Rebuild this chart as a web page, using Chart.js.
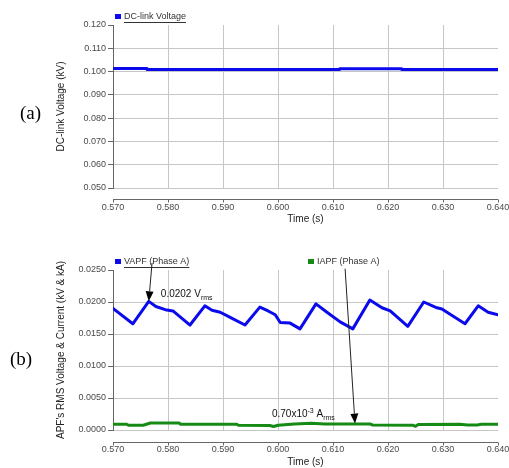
<!DOCTYPE html>
<html>
<head>
<meta charset="utf-8">
<script src="https://cdn.jsdelivr.net/npm/chart.js@4/dist/chart.umd.min.js"></script>
<style>
  html, body { margin: 0; padding: 0; background: #fff; }
  .panel { position: absolute; left: 0; }
</style>
</head>
<body>
<canvas id="chartA" class="panel" style="top:0" width="509" height="235"></canvas>
<canvas id="chartB" class="panel" style="top:235px" width="509" height="233"></canvas>
<script>
// Panel (a): DC-link voltage
const dcTime = [0.570, 0.5762, 0.5762, 0.6112, 0.6112, 0.6225, 0.6225, 0.640]
const dcVoltage = [0.1013, 0.1013, 0.1009, 0.1009, 0.1012, 0.1012, 0.1009, 0.1009]

// Panel (b): APF RMS voltage (phase A)
const vapfTime = [
  0.5700, 0.5736, 0.5765, 0.5778, 0.5795, 0.5809, 0.5840, 0.5867, 0.5880, 0.5895,
  0.5913, 0.5940, 0.5967, 0.5982, 0.5995, 0.6004, 0.6022, 0.6040, 0.6069, 0.6089,
  0.6113, 0.6136, 0.6167, 0.6189, 0.6204, 0.6236, 0.6265, 0.6289, 0.6298, 0.6340,
  0.6364, 0.6382, 0.6400,
]
const vapfValue = [
  0.0190, 0.0166, 0.0201, 0.0193, 0.0188, 0.0186, 0.0164, 0.0194, 0.0187, 0.0184,
  0.0176, 0.0164, 0.0192, 0.0186, 0.0180, 0.0168, 0.0167, 0.0158, 0.0197, 0.0184,
  0.0169, 0.0158, 0.0203, 0.0191, 0.0186, 0.0162, 0.0200, 0.0191, 0.0189, 0.0166,
  0.0194, 0.0184, 0.0180,
]

// Panel (b): APF RMS current (phase A)
const iapfTime = [
  0.5700, 0.5725, 0.5728, 0.5755, 0.5768, 0.5820, 0.5823, 0.5925, 0.5928, 0.5985,
  0.5992, 0.6000, 0.6030, 0.6060, 0.6085, 0.6167, 0.6172, 0.6245, 0.6250, 0.6255,
  0.6330, 0.6345, 0.6362, 0.6370, 0.6400,
]
const iapfValue = [
  0.00090, 0.00090, 0.00075, 0.00075, 0.00110, 0.00110, 0.00090, 0.00090, 0.00075, 0.00070,
  0.00055, 0.00075, 0.00095, 0.00105, 0.00095, 0.00095, 0.00078, 0.00075, 0.00058, 0.00085,
  0.00090, 0.00078, 0.00078, 0.00090, 0.00090,
]

// Оси
const timeMin = 0.570
const timeMax = 0.640
const timeStep = 0.010
const dcMin = 0.050
const dcMax = 0.120
const dcStep = 0.010
const rmsMin = 0
const rmsMax = 0.025
const rmsStep = 0.005

const FONT = '"Liberation Sans", Arial, sans-serif'
Chart.defaults.font.family = FONT
Chart.defaults.font.size = 9
Chart.defaults.color = '#4a4a4a'

const GRID = '#c6c6c6'
const AXIS = '#666'

function pairs(xs, ys) {
  return xs.map((x, i) => ({ x: x, y: ys[i] }))
}

// Легенда, подписи панелей, ось X под графиком и стрелки
const panelDecor = {
  id: 'panelDecor',
  afterDraw(chart, args, opts) {
    const { ctx, chartArea } = chart
    const xs = chart.scales.x
    const ys = chart.scales.y
    ctx.save()

    // ось X, отодвинутая вниз от области графика
    const axisY = chartArea.bottom + opts.axisGap + 0.5
    ctx.strokeStyle = AXIS
    ctx.lineWidth = 1
    ctx.beginPath()
    ctx.moveTo(chartArea.left, axisY)
    ctx.lineTo(chartArea.right, axisY)
    xs.ticks.forEach((t) => {
      const px = Math.round(xs.getPixelForValue(t.value)) + 0.5
      ctx.moveTo(px, axisY)
      ctx.lineTo(px, axisY + 3)
    })
    ctx.stroke()

    // (a) / (b)
    ctx.fillStyle = '#000'
    ctx.font = '19px "Liberation Serif", "Times New Roman", serif'
    ctx.textBaseline = 'middle'
    ctx.textAlign = 'left'
    ctx.fillText(opts.letter, opts.letterX, opts.letterY)

    // легенда
    ctx.font = '9px ' + FONT
    const ly = chartArea.top - 8
    chart.data.datasets.forEach((ds, i) => {
      const lx = opts.legendX[i]
      ctx.fillStyle = ds.borderColor
      ctx.fillRect(lx, ly - 3, 6, 5)
      ctx.fillStyle = '#333'
      ctx.fillText(ds.label, lx + 9, ly)
      if (i === 0) {
        const w = ctx.measureText(ds.label).width
        ctx.strokeStyle = '#333'
        ctx.beginPath()
        ctx.moveTo(lx + 9, Math.round(ly + 5) + 0.5)
        ctx.lineTo(lx + 9 + w, Math.round(ly + 5) + 0.5)
        ctx.stroke()
      }
    })

    // стрелки
    ;(opts.arrows || []).forEach((a) => {
      const x1 = xs.getPixelForValue(a.from[0])
      const y1 = ys.getPixelForValue(a.from[1])
      const x2 = xs.getPixelForValue(a.to[0])
      const y2 = ys.getPixelForValue(a.to[1])
      const ang = Math.atan2(y2 - y1, x2 - x1)
      const len = 10
      const hw = 4
      const bx = x2 - len * Math.cos(ang)
      const by = y2 - len * Math.sin(ang)
      ctx.strokeStyle = '#222'
      ctx.lineWidth = 1
      ctx.beginPath()
      ctx.moveTo(x1, y1)
      ctx.lineTo(bx, by)
      ctx.stroke()
      ctx.fillStyle = '#000'
      ctx.beginPath()
      ctx.moveTo(x2, y2)
      ctx.lineTo(bx + hw * Math.sin(ang), by - hw * Math.cos(ang))
      ctx.lineTo(bx - hw * Math.sin(ang), by + hw * Math.cos(ang))
      ctx.closePath()
      ctx.fill()
    })

    // подписи у стрелок
    ctx.textBaseline = 'alphabetic'
    ctx.fillStyle = '#111'
    ;(opts.notes || []).forEach((n) => {
      let px = xs.getPixelForValue(n.at[0])
      const py = ys.getPixelForValue(n.at[1])
      n.parts.forEach((p) => {
        ctx.font = p.size + 'px ' + FONT
        ctx.fillText(p.text, px, py + p.dy)
        px += ctx.measureText(p.text).width
      })
    })

    ctx.restore()
  },
}

function makeOptions(cfg) {
  return {
    responsive: false,
    animation: false,
    layout: { padding: { top: cfg.padTop, right: 11, left: 0, bottom: 0 } },
    plugins: {
      legend: { display: false },
      tooltip: { enabled: false },
      panelDecor: cfg.decor,
    },
    elements: {
      point: { radius: 0 },
      line: { borderWidth: 3, tension: 0, borderJoinStyle: 'round', borderCapStyle: 'round' },
    },
    scales: {
      x: {
        type: 'linear',
        min: timeMin,
        max: timeMax,
        afterFit(scale) {
          scale.height = cfg.xHeight
          scale.paddingLeft = 0
          scale.paddingRight = 0
        },
        border: { display: false },
        grid: {
          drawTicks: false,
          color: (c) =>
            c.tick && (Math.abs(c.tick.value - timeMax) < 1e-9 || Math.abs(c.tick.value - timeMin) < 1e-9)
              ? 'rgba(0,0,0,0)'
              : GRID,
        },
        ticks: {
          stepSize: timeStep,
          padding: 14,
          maxRotation: 0,
          callback: (v) => v.toFixed(3),
        },
        title: {
          display: true,
          text: 'Time (s)',
          color: '#222',
          font: { size: 10 },
          padding: { top: 0, bottom: cfg.xTitlePad },
        },
      },
      y: {
        min: cfg.yMin,
        max: cfg.yMax,
        afterFit(scale) {
          scale.width = 113
          scale.paddingTop = 0
          scale.paddingBottom = 0
        },
        border: { display: true, color: AXIS },
        grid: {
          tickLength: 5,
          tickColor: AXIS,
          color: (c) => (c.tick && Math.abs(c.tick.value - cfg.yMax) < 1e-9 ? 'rgba(0,0,0,0)' : GRID),
        },
        ticks: {
          stepSize: cfg.yStep,
          padding: 2,
          callback: (v) => v.toFixed(cfg.yDigits),
        },
        title: {
          display: true,
          text: cfg.yTitle,
          color: '#222',
          font: { size: 10 },
          padding: { top: 55, bottom: 0 },
        },
      },
    },
  }
}

new Chart(document.getElementById('chartA'), {
  type: 'line',
  data: {
    datasets: [
      {
        label: 'DC-link Voltage',
        data: pairs(dcTime, dcVoltage),
        borderColor: '#0a0aec',
      },
    ],
  },
  options: makeOptions({
    padTop: 25,
    xHeight: 47,
    xTitlePad: 10,
    yMin: dcMin,
    yMax: dcMax,
    yStep: dcStep,
    yDigits: 3,
    yTitle: 'DC-link Voltage (kV)',
    decor: {
      axisGap: 11,
      letter: '(a)',
      letterX: 20,
      letterY: 114,
      legendX: [115],
    },
  }),
  plugins: [panelDecor],
})

new Chart(document.getElementById('chartB'), {
  type: 'line',
  data: {
    datasets: [
      {
        label: 'VAPF (Phase A)',
        data: pairs(vapfTime, vapfValue),
        borderColor: '#0a0aec',
      },
      {
        label: 'IAPF (Phase A)',
        data: pairs(iapfTime, iapfValue),
        borderColor: '#158a15',
      },
    ],
  },
  options: makeOptions({
    padTop: 35,
    xHeight: 38,
    xTitlePad: 0,
    yMin: rmsMin,
    yMax: rmsMax,
    yStep: rmsStep,
    yDigits: 4,
    yTitle: "APF's RMS Voltage & Current (kV & kA)",
    decor: {
      axisGap: 12,
      letter: '(b)',
      letterX: 10,
      letterY: 125,
      legendX: [115, 308],
      arrows: [
        { from: [0.5771, 0.0261], to: [0.5765, 0.0201] },
        { from: [0.6122, 0.0252], to: [0.6140, 0.0010] },
      ],
      notes: [
        {
          at: [0.5787, 0.0208],
          parts: [
            { text: '0.0202 V', size: 10, dy: 0 },
            { text: 'rms', size: 7, dy: 3 },
          ],
        },
        {
          at: [0.5989, 0.0020],
          parts: [
            { text: '0.70x10', size: 10, dy: 0 },
            { text: '-3', size: 7, dy: -4 },
            { text: ' A', size: 10, dy: 0 },
            { text: 'rms', size: 7, dy: 3 },
          ],
        },
      ],
    },
  }),
  plugins: [panelDecor],
})
</script>
</body>
</html>
